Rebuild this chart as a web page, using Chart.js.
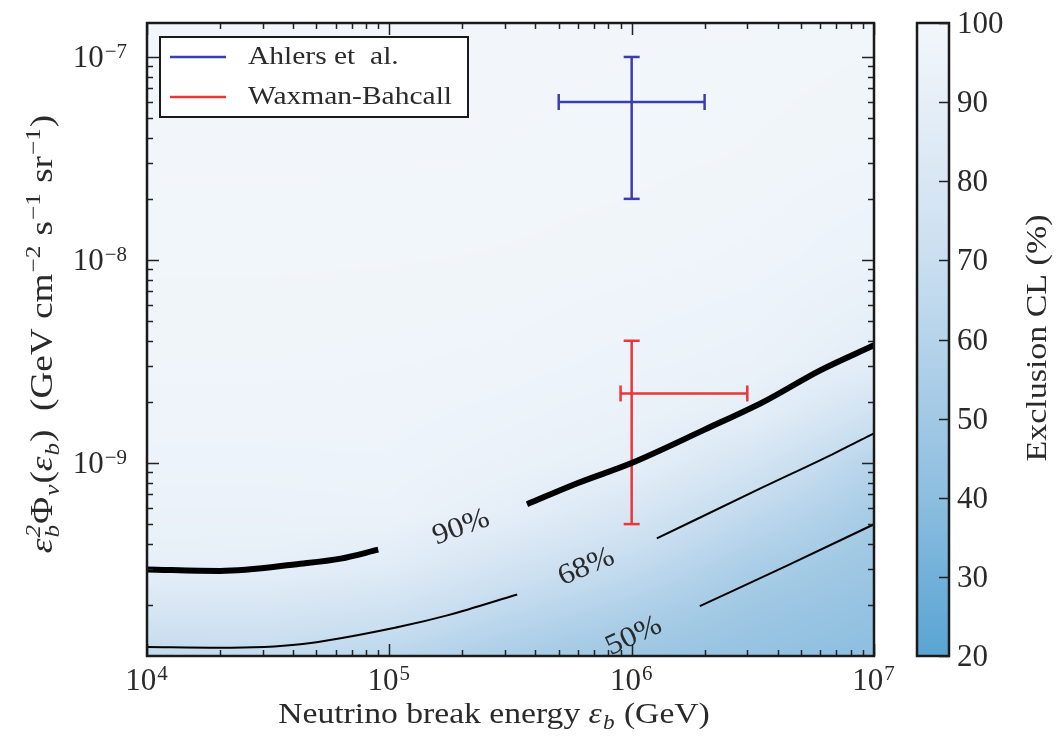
<!DOCTYPE html>
<html>
<head>
<meta charset="utf-8">
<script src="https://cdn.jsdelivr.net/npm/chart.js@4/dist/chart.umd.min.js"></script>
<style>
  html, body { margin: 0; padding: 0; background: #fff; }
  #wrap { width: 1056px; height: 739px; }
</style>
</head>
<body>
<div id="wrap"><canvas id="limits" width="1056" height="739"></canvas></div>
<script>
// axis ranges
const energyRange = [1e4, 1e7];
const fluxRange = [1.12e-10, 1.47e-7];
const clRange = [20, 100];
const clTicks = [20, 30, 40, 50, 60, 70, 80, 90, 100];

// exclusion contours, split where the level labels sit
const c90E1 = [1e4, 2e4, 4.3e4, 6.3e4, 9.0e4];
const c90F1 = [2.99e-10, 2.94e-10, 3.19e-10, 3.38e-10, 3.74e-10];
const c90E2 = [3.7e5, 6e5, 1e6, 2e6, 3.5e6, 6e6, 1e7];
const c90F2 = [6.26e-10, 7.97e-10, 1.0e-9, 1.46e-9, 2.0e-9, 2.86e-9, 3.8e-9];

const c68E1 = [1e4, 2e4, 4.3e4, 1.1e5, 1.75e5, 3.37e5];
const c68F1 = [1.24e-10, 1.23e-10, 1.28e-10, 1.56e-10, 1.78e-10, 2.25e-10];
const c68E2 = [1.27e6, 3.5e6, 6.8e6, 1e7];
const c68F2 = [4.25e-10, 7.62e-10, 1.11e-9, 1.40e-9];

const c50E = [1.91e6, 4.4e6, 1e7];
const c50F = [1.97e-10, 3.13e-10, 4.99e-10];

const levelText = ['90%', '68%', '50%'];
const levelE = [1.98e5, 6.5e5, 1.02e6];
const levelF = [4.81e-10, 3.07e-10, 1.40e-10];

// model predictions: [low, central, high]
const ahlersE = [5e5, 1e6, 2e6];
const ahlersF = [2e-8, 6e-8, 1e-7];
const wbE = [9e5, 1e6, 3e6];
const wbF = [5e-10, 2.2e-9, 4e-9];

// exclusion CL (%) on a log-log grid, rows from low flux to high flux
const gridLogE = [4, 4.5, 5, 5.5, 6, 6.5, 7];
const gridLogF = [-10, -9.75, -9.5, -9.25, -9, -8.75, -8.5, -8, -7.5, -6.8];
const clGrid = [
  [62, 63.5, 59.7, 52, 45.5, 43, 39],
  [77, 76.6, 72.7, 63, 55.4, 47.5, 43],
  [90.4, 90.3, 86.5, 75.9, 66.6, 54.5, 47.5],
  [93.3, 93.3, 94, 89, 78.3, 64.6, 52.5],
  [95.3, 95.3, 95.5, 93, 90, 76.5, 60],
  [96.3, 96.3, 96.3, 95, 93, 89.5, 74],
  [97.3, 97.3, 97, 96.5, 95, 93.5, 88],
  [98.3, 98.3, 98.2, 98, 97.5, 96.5, 94],
  [99, 99, 99, 98.8, 98.5, 98, 97],
  [99.3, 99.3, 99.3, 99.2, 99, 99, 98.5]
];

// colour map stops (CL -> colour)
const cmapVal = [20, 30, 40, 50, 60, 70, 80, 90, 100];
const cmapHex = ['#5aa5d4', '#72b1da', '#8dbfe0', '#a2c9e4', '#b6d4eb', '#cadff0', '#d9e7f4', '#e6eff8', '#f3f7fb'];
const cmapRgb = cmapHex.map(h => [1, 3, 5].map(i => parseInt(h.slice(i, i + 2), 16)));

const BLUE = '#3c3cb4';
const RED = '#ee3535';
const INK = '#222';
const TEXT = '#2a2a2a';
const FONT = '"Liberation Serif", "DejaVu Serif", serif';
const levelAngle = [-20, -23, -25];

function clColor(v) {
  if (v <= cmapVal[0]) return cmapRgb[0];
  const n = cmapVal.length - 1;
  if (v >= cmapVal[n]) return cmapRgb[n];
  let i = 0;
  while (v > cmapVal[i + 1]) i++;
  const t = (v - cmapVal[i]) / (cmapVal[i + 1] - cmapVal[i]);
  return cmapRgb[i].map((c, k) => c + (cmapRgb[i + 1][k] - c) * t);
}

function findCell(nodes, v) {
  if (v <= nodes[0]) return [0, 0];
  const n = nodes.length - 1;
  if (v >= nodes[n]) return [n - 1, 1];
  let i = 0;
  while (v > nodes[i + 1]) i++;
  return [i, (v - nodes[i]) / (nodes[i + 1] - nodes[i])];
}

function sampleCL(le, lf) {
  const [i, tx] = findCell(gridLogE, le);
  const [j, ty] = findCell(gridLogF, lf);
  const a = clGrid[j][i], b = clGrid[j][i + 1];
  const c = clGrid[j + 1][i], d = clGrid[j + 1][i + 1];
  return (a * (1 - tx) + b * tx) * (1 - ty) + (c * (1 - tx) + d * tx) * ty;
}

const pts = (E, F) => E.map((e, i) => ({ x: e, y: F[i] }));
const gapAt = e => ({ x: e, y: null });

function fnt(size, it) { return (it ? 'italic ' : '') + size + 'px ' + FONT; }

// tiny math-text layout: plain runs plus stacked sub/superscripts,
// sx widens the glyphs a little
function drawRich(ctx, parts, x, y, size, align, supRaise, sx) {
  sx = sx || 1;
  const ops = [];
  let w = 0;
  const small = Math.round(size * 0.68);
  for (const p of parts) {
    if (p.t !== undefined) {
      ctx.font = fnt(size, p.it);
      ops.push({ t: p.t, x: w, dy: 0, f: ctx.font });
      w += ctx.measureText(p.t).width * sx;
    } else {
      let pw = 0;
      if (p.sup) {
        ctx.font = fnt(small, p.it);
        ops.push({ t: p.sup, x: w + 1, dy: -(supRaise || size * 0.38), f: ctx.font });
        pw = Math.max(pw, ctx.measureText(p.sup).width * sx);
      }
      if (p.sub) {
        ctx.font = fnt(small, p.it);
        ops.push({ t: p.sub, x: w + 1, dy: size * 0.22, f: ctx.font });
        pw = Math.max(pw, ctx.measureText(p.sub).width * sx);
      }
      w += pw + 2;
    }
  }
  const x0 = align === 'center' ? x - w / 2 : align === 'right' ? x - w : x;
  ctx.textAlign = 'left';
  ctx.textBaseline = 'alphabetic';
  for (const o of ops) {
    ctx.save();
    ctx.font = o.f;
    ctx.translate(x0 + o.x, y + o.dy);
    ctx.scale(sx, 1);
    ctx.fillText(o.t, 0, 0);
    ctx.restore();
  }
}

const expParts = v => [{ t: '10' }, { sup: String(Math.round(Math.log10(v))).replace('-', '\u2212') }];

// CL background painted pixel by pixel through the axis scales
const heatmap = {
  id: 'heatmap',
  beforeDatasetsDraw(chart) {
    const { ctx, chartArea: a, scales: { x, y } } = chart;
    const w = Math.round(a.right - a.left), h = Math.round(a.bottom - a.top);
    const off = document.createElement('canvas');
    off.width = w; off.height = h;
    const octx = off.getContext('2d');
    const img = octx.createImageData(w, h);
    const le = [];
    for (let i = 0; i < w; i++) le.push(Math.log10(x.getValueForPixel(a.left + i + 0.5)));
    for (let j = 0; j < h; j++) {
      const lf = Math.log10(y.getValueForPixel(a.top + j + 0.5));
      for (let i = 0; i < w; i++) {
        const c = clColor(sampleCL(le[i], lf));
        const k = (j * w + i) * 4;
        img.data[k] = c[0]; img.data[k + 1] = c[1]; img.data[k + 2] = c[2]; img.data[k + 3] = 255;
      }
    }
    octx.putImageData(img, 0, 0);
    ctx.drawImage(off, a.left, a.top);
  }
};

// frame, ticks, labels, legend and colour bar
const decorations = {
  id: 'decorations',
  afterDatasetsDraw(chart) {
    const { ctx, chartArea: a, scales: { x, y, cl } } = chart;
    ctx.save();

    // contour level labels
    ctx.save();
    ctx.beginPath();
    ctx.rect(a.left, a.top, a.right - a.left, a.bottom - a.top);
    ctx.clip();
    ctx.fillStyle = TEXT;
    ctx.font = fnt(29);
    ctx.textAlign = 'center';
    ctx.textBaseline = 'middle';
    levelText.forEach((s, i) => {
      ctx.save();
      ctx.translate(x.getPixelForValue(levelE[i]), y.getPixelForValue(levelF[i]));
      ctx.rotate(levelAngle[i] * Math.PI / 180);
      ctx.scale(1.1, 1);
      ctx.fillText(s, 0, 0);
      ctx.restore();
    });
    ctx.restore();

    // ticks on all four sides, pointing inwards
    ctx.strokeStyle = INK;
    ctx.lineWidth = 1.5;
    const xt = [], yt = [];
    for (let d = 4; d <= 6; d++) for (let m = 1; m <= 9; m++) xt.push([m * Math.pow(10, d), m === 1]);
    xt.push([1e7, true]);
    for (let d = -10; d <= -7; d++) for (let m = 1; m <= 9; m++) {
      const v = m * Math.pow(10, d);
      if (v >= fluxRange[0] && v <= fluxRange[1]) yt.push([v, m === 1]);
    }
    ctx.beginPath();
    for (const [v, major] of xt) {
      const px = Math.round(x.getPixelForValue(v)) + 0.5, L = major ? 12 : 6;
      ctx.moveTo(px, a.bottom); ctx.lineTo(px, a.bottom - L);
      ctx.moveTo(px, a.top); ctx.lineTo(px, a.top + L);
    }
    for (const [v, major] of yt) {
      const py = Math.round(y.getPixelForValue(v)) + 0.5, L = major ? 12 : 6;
      ctx.moveTo(a.left, py); ctx.lineTo(a.left + L, py);
      ctx.moveTo(a.right, py); ctx.lineTo(a.right - L, py);
    }
    ctx.stroke();

    // axes frame
    ctx.lineWidth = 2.5;
    ctx.strokeStyle = '#1a1a1a';
    ctx.strokeRect(a.left, a.top, a.right - a.left, a.bottom - a.top);

    // tick labels
    ctx.fillStyle = TEXT;
    for (const [v, major] of xt) if (major) drawRich(ctx, expParts(v), x.getPixelForValue(v), a.bottom + 34, 31, 'center', 10);
    for (const [v, major] of yt) if (major) drawRich(ctx, expParts(v), a.left - 19, y.getPixelForValue(v) + 10, 31, 'right', 9);

    // axis titles
    drawRich(ctx, [{ t: 'Neutrino break energy ' }, { t: 'ε', it: true }, { sub: 'b', it: true }, { t: ' (GeV)' }],
      494, 723, 29, 'center', 0, 1.16);
    ctx.save();
    ctx.translate(52, 334);
    ctx.rotate(-Math.PI / 2);
    drawRich(ctx, [
      { t: 'ε', it: true }, { sub: 'b', sup: '2', it: true }, { t: 'Φ' }, { sub: 'ν', it: true },
      { t: '(' }, { t: 'ε', it: true }, { sub: 'b', it: true }, { t: ')  (GeV cm' }, { sup: '\u22122' },
      { t: ' s' }, { sup: '\u22121' }, { t: ' sr' }, { sup: '\u22121' }, { t: ')' }
    ], 0, 0, 31, 'center', 0, 1.2);
    ctx.restore();

    // legend
    const lx = 160, ly = 37, lw = 308, lh = 80;
    ctx.fillStyle = '#fff';
    ctx.fillRect(lx, ly, lw, lh);
    ctx.lineWidth = 2;
    ctx.strokeStyle = '#1a1a1a';
    ctx.strokeRect(lx, ly, lw, lh);
    [['Ahlers et  al.', BLUE, 57], ['Waxman-Bahcall', RED, 97]].forEach(([label, col, yy]) => {
      ctx.strokeStyle = col;
      ctx.lineWidth = 2.5;
      ctx.beginPath(); ctx.moveTo(170, yy); ctx.lineTo(226, yy); ctx.stroke();
      ctx.fillStyle = TEXT;
      drawRich(ctx, [{ t: label }], 248, yy + 7, 25, 'left', 0, 1.18);
    });

    // colour bar, sampled through the CL scale
    const bx0 = 917, bx1 = 949;
    for (let py = Math.floor(a.top); py < Math.ceil(a.bottom); py++) {
      const c = clColor(cl.getValueForPixel(py + 0.5));
      ctx.fillStyle = `rgb(${c[0] | 0},${c[1] | 0},${c[2] | 0})`;
      ctx.fillRect(bx0, py, bx1 - bx0, 1);
    }
    ctx.lineWidth = 2.5;
    ctx.strokeStyle = '#1a1a1a';
    ctx.strokeRect(bx0, a.top, bx1 - bx0, a.bottom - a.top);
    ctx.lineWidth = 1.5;
    ctx.strokeStyle = INK;
    ctx.beginPath();
    for (const v of clTicks) {
      const py = Math.round(cl.getPixelForValue(v)) + 0.5;
      ctx.moveTo(bx1, py); ctx.lineTo(bx1 - 10, py);
    }
    ctx.stroke();
    ctx.fillStyle = TEXT;
    for (const v of clTicks) drawRich(ctx, [{ t: String(v) }], bx1 + 8, cl.getPixelForValue(v) + 10, 31, 'left');

    ctx.save();
    ctx.translate(1046, 338);
    ctx.rotate(-Math.PI / 2);
    drawRich(ctx, [{ t: 'Exclusion CL (%)' }], 0, 0, 29, 'center', 0, 1.17);
    ctx.restore();

    ctx.restore();
  }
};

const contour = (data, width) => ({
  data, borderColor: '#000', borderWidth: width, borderCapStyle: 'butt',
  cubicInterpolationMode: 'monotone', spanGaps: false, pointRadius: 0
});

const errorBar = (data, color, rot) => ({
  data, borderColor: color, borderWidth: 2.5, pointStyle: 'line', pointRadius: 8,
  pointBorderWidth: 2.5, pointBorderColor: color, pointRotation: rot
});

new Chart(document.getElementById('limits'), {
  type: 'line',
  data: {
    datasets: [
      contour([...pts(c90E1, c90F1), gapAt(2e5), ...pts(c90E2, c90F2)], 6),
      contour([...pts(c68E1, c68F1), gapAt(6.5e5), ...pts(c68E2, c68F2)], 2),
      contour(pts(c50E, c50F), 2),
      errorBar(pts([ahlersE[1], ahlersE[1]], [ahlersF[0], ahlersF[2]]), BLUE, 0),
      errorBar(pts([ahlersE[0], ahlersE[2]], [ahlersF[1], ahlersF[1]]), BLUE, 90),
      errorBar(pts([wbE[1], wbE[1]], [wbF[0], wbF[2]]), RED, 0),
      errorBar(pts([wbE[0], wbE[2]], [wbF[1], wbF[1]]), RED, 90)
    ]
  },
  options: {
    responsive: false,
    animation: false,
    events: [],
    layout: { padding: { left: 147, top: 23, right: 182, bottom: 83 } },
    plugins: { legend: { display: false }, tooltip: { enabled: false } },
    scales: {
      x: { type: 'logarithmic', min: energyRange[0], max: energyRange[1], display: false },
      y: { type: 'logarithmic', min: fluxRange[0], max: fluxRange[1], display: false },
      cl: { type: 'linear', min: clRange[0], max: clRange[1], display: false, position: 'right' }
    }
  },
  plugins: [heatmap, decorations]
});
</script>
</body>
</html>
